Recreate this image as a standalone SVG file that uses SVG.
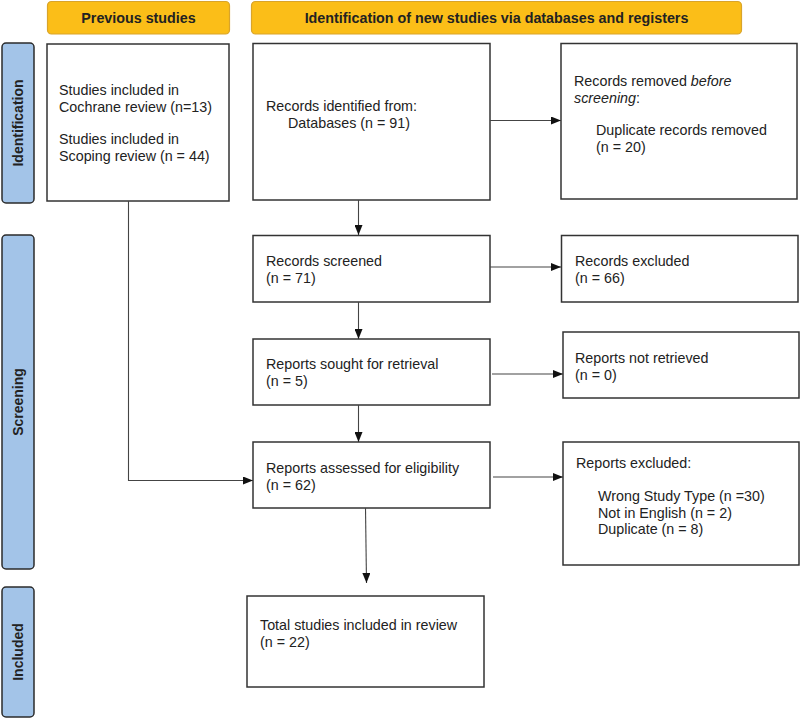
<svg xmlns="http://www.w3.org/2000/svg" width="800" height="718" viewBox="0 0 800 718">
<style>
.hdr{fill:#FBBE18;stroke:#D9A42A;stroke-width:1.2}
.side{fill:#A3C4E8;stroke:#2b2b2b;stroke-width:1.5}
.box{fill:#fff;stroke:#333;stroke-width:1.5}
.t{font-family:"Liberation Sans",Arial,sans-serif;font-size:14.3px;fill:#222}
.hb{font-family:"Liberation Sans",Arial,sans-serif;font-size:14.3px;font-weight:bold;fill:#222}
.sb{font-family:"Liberation Sans",Arial,sans-serif;font-size:14px;font-weight:bold;fill:#222}
.ln{fill:none;stroke:#444;stroke-width:1.1}
</style>
<defs>
<marker id="ah" markerWidth="10" markerHeight="8" refX="10" refY="4" orient="auto" markerUnits="userSpaceOnUse">
<path d="M0,0 L10,4 L0,8 Z" fill="#111"/>
</marker>
</defs>
<rect width="800" height="718" fill="#fff"/>

<g id="hdr-prev"><rect class="hdr" x="47.5" y="1.5" width="182" height="32.5" rx="4"/><text class="hb" x="138.5" y="22.5" text-anchor="middle">Previous studies</text></g>
<g id="hdr-new"><rect class="hdr" x="251.5" y="1.5" width="490" height="32.5" rx="4"/><text class="hb" x="496.5" y="22.5" text-anchor="middle">Identification of new studies via databases and registers</text></g>

<g id="side-ident"><rect class="side" x="2" y="43" width="32" height="160" rx="4"/><text class="sb" transform="translate(23,123) rotate(-90)" text-anchor="middle">Identification</text></g>
<g id="side-screen"><rect class="side" x="2" y="235" width="32" height="334" rx="4"/><text class="sb" transform="translate(23,402) rotate(-90)" text-anchor="middle">Screening</text></g>
<g id="side-incl"><rect class="side" x="2" y="587" width="32" height="130" rx="4"/><text class="sb" transform="translate(23,652) rotate(-90)" text-anchor="middle">Included</text></g>

<g id="prev"><rect class="box" x="47" y="44" width="182" height="157"/>
<text class="t" x="59" y="94.5">Studies included in</text>
<text class="t" x="59" y="111.5">Cochrane review (n=13)</text>
<text class="t" x="59" y="143.5">Studies included in</text>
<text class="t" x="59" y="160.5">Scoping review (n = 44)</text></g>

<g id="identified"><rect class="box" x="253" y="43.5" width="237" height="156.5"/>
<text class="t" x="266" y="111">Records identified from:</text>
<text class="t" x="288" y="127.5">Databases (n = 91)</text></g>

<g id="removed"><rect class="box" x="561" y="43.5" width="236" height="155.5"/>
<text class="t" x="574" y="86">Records removed <tspan font-style="italic">before</tspan></text>
<text class="t" x="574" y="103"><tspan font-style="italic">screening</tspan>:</text>
<text class="t" x="596" y="135">Duplicate records removed</text>
<text class="t" x="596" y="152">(n = 20)</text></g>

<g id="screened"><rect class="box" x="253" y="235.5" width="237" height="66.5"/>
<text class="t" x="266" y="266">Records screened</text>
<text class="t" x="266" y="283">(n = 71)</text></g>

<g id="excluded"><rect class="box" x="561.5" y="235.5" width="236.5" height="66.5"/>
<text class="t" x="575" y="266">Records excluded</text>
<text class="t" x="575" y="283">(n = 66)</text></g>

<g id="sought"><rect class="box" x="253" y="339" width="237" height="66"/>
<text class="t" x="266" y="369">Reports sought for retrieval</text>
<text class="t" x="266" y="386">(n = 5)</text></g>

<g id="notretrieved"><rect class="box" x="563" y="332" width="236" height="66"/>
<text class="t" x="575" y="363">Reports not retrieved</text>
<text class="t" x="575" y="380">(n = 0)</text></g>

<g id="assessed"><rect class="box" x="253" y="442" width="237" height="66"/>
<text class="t" x="266" y="473">Reports assessed for eligibility</text>
<text class="t" x="266" y="490">(n = 62)</text></g>

<g id="repexcluded"><rect class="box" x="563" y="442" width="236" height="123"/>
<text class="t" x="576" y="468">Reports excluded:</text>
<text class="t" x="598" y="501">Wrong Study Type (n =30)</text>
<text class="t" x="598" y="518">Not in English (n = 2)</text>
<text class="t" x="598" y="534">Duplicate (n = 8)</text></g>

<g id="included"><rect class="box" x="247" y="596" width="237" height="91"/>
<text class="t" x="260" y="630">Total studies included in review</text>
<text class="t" x="260" y="647">(n = 22)</text></g>

<g id="connectors">
<path class="ln" d="M490,120.5 H561" marker-end="url(#ah)"/>
<path class="ln" d="M358.5,200 V235" marker-end="url(#ah)"/>
<path class="ln" d="M490,267 H561" marker-end="url(#ah)"/>
<path class="ln" d="M358.5,302 V339" marker-end="url(#ah)"/>
<path class="ln" d="M492,374 H563" marker-end="url(#ah)"/>
<path class="ln" d="M358.5,405 V442" marker-end="url(#ah)"/>
<path class="ln" d="M493,477 H563" marker-end="url(#ah)"/>
<path class="ln" d="M128.5,201 V480.5 H253" marker-end="url(#ah)"/>
<path class="ln" d="M365.5,508 L366.5,583" marker-end="url(#ah)"/>
</g>
</svg>
